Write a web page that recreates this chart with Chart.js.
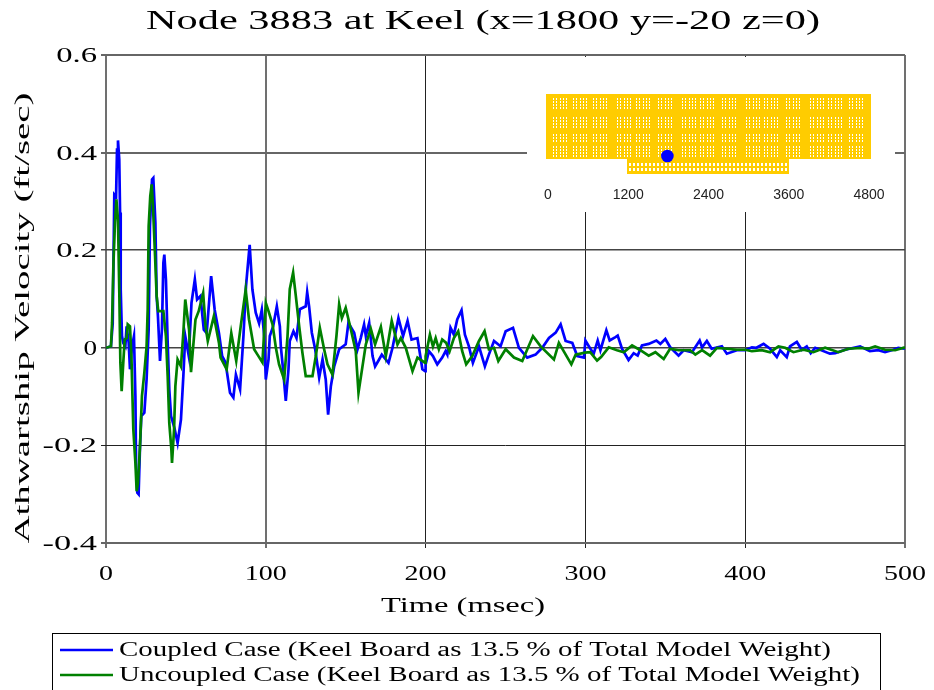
<!DOCTYPE html>
<html>
<head>
<meta charset="utf-8">
<title>Node 3883 at Keel</title>
<script src="https://cdn.jsdelivr.net/npm/chart.js@4"></script>
<style>
  html, body { margin: 0; background: #fff; overflow: hidden; }
  canvas { display: block; }
</style>
</head>
<body>
<canvas id="keelChart" width="934" height="690"></canvas>
<script>
const chartTitle = "Node 3883 at Keel (x=1800 y=-20 z=0)";
const xAxisTitle = "Time (msec)";
const yAxisTitle = "Athwartship Velocity (ft/sec)";
const coupledLabel = "Coupled Case (Keel Board as 13.5 % of Total Model Weight)";
const uncoupledLabel = "Uncoupled Case (Keel Board as 13.5 % of Total Model Weight)";

const xTicks = [0, 100, 200, 300, 400, 500];
const yTicks = [0.6, 0.4, 0.2, 0, -0.2, -0.4];
const insetTicks = [0, 1200, 2400, 3600, 4800];
const nodeX = 1800;

// msec / ft/sec
const coupledTime = [0, 3.1, 4.2, 5.2, 6.3, 6.9, 7.5, 8.3, 8.8, 9.2, 10, 10.8, 12.1, 12.9, 14.2, 15, 16.3, 17.5, 18.4, 18.8, 19.6, 20.4, 21.3, 22.1, 24, 25.4, 26.7, 27.5, 28.8, 29.6, 30.9, 31.7, 32.5, 33.8, 35, 35.9, 36.5, 37.5, 38.6, 39.6, 40.7, 42.8, 44.8, 46.9, 48.4, 49.6,
    51.8, 53.5, 55.6, 57, 59.1, 61.2, 63, 65.8, 68, 70.7, 72.7, 74.8, 77.6, 79.7, 81.3, 83.9, 86, 87.6, 89.9, 91.6, 93.7, 95.8, 97.5, 99,
    100, 101.7, 102.5, 104.6, 106.9, 108.8, 109.4, 110.8, 112.5, 114.2, 115, 117.3, 119.2, 121.3, 125, 125.9, 127.1, 128.8, 130.9, 133.4, 135.5, 137.5, 139, 140.7, 142.8, 145.9, 150, 151.7, 155.3, 157.4, 159.4, 161.5, 162.6, 164.7, 166.8, 168.4, 170.9, 172.6, 176.8, 179.3, 183, 185.9, 188.7, 191.2, 194.9, 198, 199.7,
    200, 202.1, 204.6, 207.3, 210.4, 212.5, 213.6, 215.6, 217.7, 219.8, 222.5, 224.6, 227.1, 229.6, 233.4, 237.1, 239.6, 242.8, 246.9, 250.1, 254.7, 258.4, 263.6, 268.8, 273, 277.2, 281.4, 284.5, 287.6, 291.8, 294.9, 299.1,
    300, 302.7, 305.2, 307.7, 309.4, 313.1, 315.2, 318.8, 320.2, 322.9, 327, 330.2, 332.7, 335.4, 339.6, 344.4, 346.9, 350, 353.1, 358.3, 361.5, 366.7, 371.5, 373, 376, 379, 385.4, 388.5, 394.8, 400, 404.2, 407, 411.5, 415.6, 419.8, 421.9, 426, 428, 432.3, 435.4, 438.5, 441, 443.8, 453, 456.3, 462.5, 471.9, 478, 483.3, 487.5, 492.7, 495.8, 500];
const coupledVel = [0, 0.003, 0.05, 0.314, 0.31, 0.406, 0.425, 0.386, 0.277, 0.12, 0.024, 0.01, 0.003, 0.044, 0.01, -0.044, 0.003, 0.024, -0.099, -0.236, -0.297, -0.3, -0.2, -0.14, -0.133, -0.065, 0.038, 0.249, 0.345, 0.348, 0.256, 0.106, 0.065, -0.027, 0.038, 0.174, 0.191, 0.14, 0.01, -0.085, -0.14, -0.164, -0.195, -0.147, -0.058, 0.024,
    -0.017, 0.092, 0.14, 0.099, 0.106, 0.037, 0.03, 0.147, 0.078, 0.03, -0.017, -0.03, -0.092, -0.102, -0.055, -0.085, 0.024, 0.126, 0.211, 0.12, 0.072, 0.05, 0.078, 0.024,
    -0.065, -0.024, 0.024, 0.044, 0.085, 0.044, 0.003, -0.044, -0.109, -0.044, 0.014, 0.034, 0.02, 0.079, 0.085, 0.114, 0.085, 0.031, -0.003, -0.061, -0.024, -0.065, -0.137, -0.079, -0.038, -0.003, 0.007, 0.051, 0.031, -0.003, 0.02, 0.048, 0.024, 0.051, -0.017, -0.038, -0.024, -0.014, -0.031, 0, 0.061, 0.024, 0.055, 0.017, 0.02, -0.044, -0.048,
    -0.034, -0.007, -0.017, -0.034, -0.02, -0.007, -0.014, 0.041, 0.027, 0.058, 0.077, 0.027, 0.003, -0.031, 0.003, -0.038, -0.014, 0.014, 0.003, 0.034, 0.041, 0, -0.02, -0.014, 0, 0.02, 0.031, 0.048, 0.014, 0.01, -0.017, -0.02,
    0.015, 0, -0.012, 0.015, -0.005, 0.036, 0.015, 0.022, 0.025, -0.002, -0.025, -0.011, -0.016, 0.005, 0.008, 0.015, 0.008, 0.018, 0.001, -0.016, -0.005, -0.009, 0.015, 0.001, 0.014, -0.002, 0.003, -0.012, -0.005, -0.005, 0.001, 0, 0.008, -0.002, -0.019, -0.005, -0.019, 0.003, 0.012, -0.004, 0.003, -0.011, 0, -0.012, -0.011, -0.004, 0.003, -0.007, -0.005, -0.009, -0.004, 0, -0.002];

const uncoupledTime = [0, 3.1, 3.8, 4.6, 5.6, 6.5, 7.5, 8.3, 9, 9.8, 10.8, 11.7, 12.9, 13.6, 15, 15.9, 17.1, 18.4, 19.2, 20, 21.3, 22.5, 24, 25.4, 26.1, 26.7, 27.7, 28.6, 29.4, 30.7, 31.7, 32.7, 35.9, 37.5, 38.6, 39.6, 40.9, 41.3, 42.6, 43.4, 44.8, 46.9, 48.4, 49.6,
    52, 53.2, 56, 58, 60.8, 62.3, 63.7, 67.5, 70.7, 71.7, 75.5, 78.4, 81.5, 84.3, 87.4, 89.5, 92.7, 94.8, 97.9,
    100, 101.7, 104.2, 106.3, 108.3, 111.5, 113.6, 115, 117.1, 118.8, 120.9, 122.9, 125, 129.2, 131.3, 133.8, 136.5, 138.6, 141.7, 144.2, 145.9, 147.6, 150, 153.2, 156.3, 158, 160.5, 162.6, 165.7, 168.4, 172, 175.1, 178.8, 182.4, 184.5, 187.6, 191.8, 194.9, 199.7,
    200, 202.7, 204.6, 206.3, 208.3, 210.4, 212.9, 215, 217.7, 220.4, 222.9, 225.4, 229.2, 233.4, 236.9, 239.6, 242.8, 245.5, 250.1, 255.3, 260.5, 267.2, 272, 280.3, 283.4, 291.2, 293.9, 299.7,
    303, 307.3, 309.8, 314.6, 319.8, 324, 329.2, 334.4, 339.6, 343.8, 349, 353, 358.3, 365.6, 368.8, 373, 378, 382.3, 388.5, 394.8, 400, 404.2, 410.4, 415.6, 420.8, 425, 430.2, 436.5, 442.7, 450, 458.3, 464.6, 472.9, 477, 481.3, 487.5, 493.8, 500];
const uncoupledVel = [0, 0.003, 0.051, 0.167, 0.256, 0.304, 0.263, 0.12, -0.031, -0.089, -0.031, 0.017, 0.02, 0.048, 0.044, -0.017, -0.167, -0.236, -0.294, -0.277, -0.2, -0.099, -0.051, 0.003, 0.079, 0.249, 0.311, 0.335, 0.29, 0.188, 0.106, 0.075, 0.075, 0.024, -0.058, -0.154, -0.208, -0.236, -0.167, -0.079, -0.024, -0.038, 0.031, 0.099,
    0.037, -0.05, 0.058, 0.075, 0.112, 0.044, 0.014, 0.065, 0.01, -0.02, -0.044, 0.03, -0.027, 0.044, 0.119, 0.058, -0.003, -0.014, -0.03,
    0.092, 0.075, 0.048, 0, -0.034, -0.065, 0.024, 0.12, 0.154, 0.106, 0.044, -0.01, -0.058, -0.058, -0.017, 0.041, -0.003, -0.034, -0.055, 0.024, 0.089, 0.061, 0.082, 0.038, -0.007, -0.092, -0.038, 0.007, 0.039, 0.007, 0.043, -0.017, 0.055, 0.007, 0.02, 0, -0.048, -0.02, -0.031,
    -0.017, 0.027, 0.003, 0.02, -0.003, 0.017, 0.01, -0.007, 0.02, 0.034, -0.007, -0.034, -0.017, 0.014, 0.034, -0.003, 0, -0.027, -0.003, -0.02, -0.027, 0.024, 0.003, -0.024, 0.01, -0.034, -0.014, -0.01,
    -0.009, -0.026, -0.019, 0.001, -0.005, -0.009, 0.005, -0.005, -0.016, -0.009, -0.023, -0.002, -0.005, -0.005, -0.014, -0.005, -0.016, 0, -0.002, -0.004, -0.004, -0.007, -0.005, -0.009, 0.003, 0, -0.009, -0.004, -0.009, 0, -0.009, -0.002, 0, -0.002, 0.003, -0.004, -0.005, 0.001];

function pairs(xs, ys) {
    return xs.map((x, i) => ({ x: x, y: ys[i] }));
}

// the reference text is wider than the font, so scale it sideways
function wideText(ctx, text, x, y, font, targetWidth, align) {
    ctx.save();
    ctx.font = font;
    ctx.fillStyle = "#000";
    ctx.textAlign = align || "left";
    ctx.textBaseline = "alphabetic";
    ctx.translate(x, y);
    ctx.scale(targetWidth / ctx.measureText(text).width, 1);
    ctx.fillText(text, 0, 0);
    ctx.restore();
}

function drawInset(ctx) {
    // blank out the grid behind the model picture
    ctx.fillStyle = "#fff";
    ctx.fillRect(527, 57, 368, 155);

    ctx.fillStyle = "#ffcc00";
    ctx.fillRect(546, 94, 325, 65);
    ctx.fillRect(627, 159, 162, 15);

    ctx.fillStyle = "#fff";
    const groups = [553, 573, 593, 617, 636, 658, 682, 700, 722, 746, 764, 786, 810, 828, 849];
    const rows = [[98, 110], [117, 127], [134, 143], [146, 156]];
    groups.forEach(gx => {
        [0, 3, 7, 10, 13].forEach(dx => {
            rows.forEach(r => {
                for (let y = r[0]; y < r[1]; y += 3) ctx.fillRect(gx + dx, y, 1, 2);
            });
        });
    });
    for (let x = 629; x < 787; x += 4) {
        ctx.fillRect(x, 163, 2, 3);
        ctx.fillRect(x, 168, 2, 3);
    }

    const insetX = v => 547 + v / 4800 * 321;
    ctx.fillStyle = "#0000ff";
    ctx.beginPath();
    ctx.arc(insetX(nodeX), 156, 6.3, 0, Math.PI * 2);
    ctx.fill();

    ctx.fillStyle = "#222";
    ctx.font = "14px 'Liberation Sans'";
    ctx.textAlign = "center";
    ctx.textBaseline = "middle";
    insetTicks.forEach(v => ctx.fillText(String(v), insetX(v) + 1, 195.5));
}

const insetPlugin = {
    id: "inset",
    beforeDatasetsDraw(chart) {
        chart.ctx.save();
        drawInset(chart.ctx);
        chart.ctx.restore();
    }
};

const textPlugin = {
    id: "wideLabels",
    afterDraw(chart) {
        const ctx = chart.ctx;
        const { x, y } = chart.scales;
        const serif = "'Liberation Serif'";

        wideText(ctx, chartTitle, 483, 29, "27px " + serif, 674, "center");

        xTicks.forEach(v => {
            wideText(ctx, String(v), x.getPixelForValue(v), 580, "22px " + serif, String(v).length * 14, "center");
        });
        yTicks.forEach(v => {
            const s = String(v);
            wideText(ctx, s, 97, y.getPixelForValue(v) + 7, "22px " + serif, s.length * 13.6, "right");
        });

        wideText(ctx, xAxisTitle, 463, 612, "21px " + serif, 164, "center");

        ctx.save();
        ctx.translate(29, 318);
        ctx.rotate(-Math.PI / 2);
        wideText(ctx, yAxisTitle, 0, 0, "22px " + serif, 451, "center");
        ctx.restore();

        // legend box runs off the bottom of the page
        ctx.save();
        ctx.strokeStyle = "#000";
        ctx.lineWidth = 1;
        ctx.strokeRect(52.5, 633.5, 828, 70);
        chart.data.datasets.forEach((ds, i) => {
            const ly = 650 + i * 25;
            ctx.strokeStyle = ds.borderColor;
            ctx.lineWidth = 2.5;
            ctx.beginPath();
            ctx.moveTo(60, ly);
            ctx.lineTo(113, ly);
            ctx.stroke();
            wideText(ctx, ds.label, 119, ly + 6, "20px " + serif, i === 0 ? 712 : 741);
        });
        ctx.restore();
    }
};

new Chart(document.getElementById("keelChart"), {
    type: "line",
    data: {
        datasets: [
            // lower order draws on top, green goes over blue
            { label: coupledLabel, data: pairs(coupledTime, coupledVel), borderColor: "#0000ff", borderWidth: 2.7, pointRadius: 0, tension: 0, order: 2 },
            { label: uncoupledLabel, data: pairs(uncoupledTime, uncoupledVel), borderColor: "#008000", borderWidth: 2.7, pointRadius: 0, tension: 0, order: 1 }
        ]
    },
    options: {
        responsive: false,
        animation: false,
        parsing: false,
        layout: { padding: { left: 101, right: 29, top: 55, bottom: 142 } },
        plugins: { legend: { display: false }, title: { display: false }, tooltip: { enabled: false } },
        scales: {
            x: {
                type: "linear",
                min: 0,
                max: 500,
                ticks: { display: false, stepSize: 100 },
                border: { display: false },
                grid: {
                    tickLength: 5,
                    color: c => (c.tick.value <= 100 || c.tick.value === 500 ? "#707070" : "#222"),
                    lineWidth: c => (c.tick.value <= 100 || c.tick.value === 500 ? 2 : 1)
                }
            },
            y: {
                min: -0.4,
                max: 0.6,
                ticks: { display: false, stepSize: 0.2 },
                border: { display: false },
                grid: {
                    tickLength: 5,
                    color: c => (c.tick.value > 0.3 || c.tick.value < -0.3 ? "#666" : c.tick.value < -0.1 ? "#222" : "#444"),
                    lineWidth: c => (c.tick.value > 0.3 || c.tick.value < -0.3 ? 2 : c.tick.value < -0.1 ? 1 : 1.5)
                }
            }
        }
    },
    plugins: [insetPlugin, textPlugin]
});
</script>
</body>
</html>
